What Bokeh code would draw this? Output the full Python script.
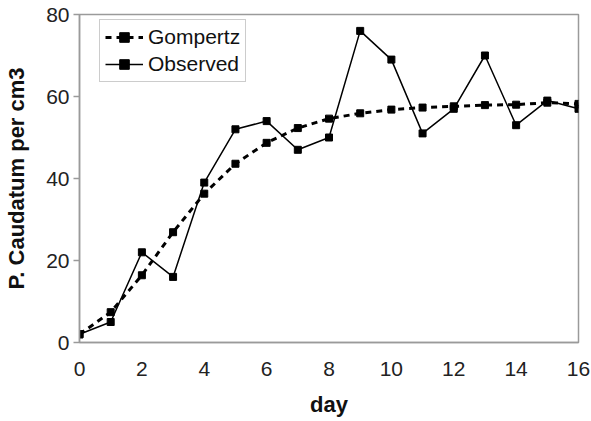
from bokeh.plotting import figure
from bokeh.models import Legend, LegendItem, FixedTicker, Range1d
from bokeh.embed import file_html
from bokeh.resources import INLINE

days = list(range(17))
observed = [2, 5, 22, 16, 39, 52, 54, 47, 50, 76, 69, 51, 57, 70, 53, 59, 57]
gompertz = [2, 7.4, 16.4, 26.9, 36.3, 43.6, 48.7, 52.3, 54.6, 55.9, 56.8, 57.3, 57.6, 57.9, 58.0, 58.5, 58.2]
x_ticks = [0, 2, 4, 6, 8, 10, 12, 14, 16]
y_ticks = [0, 20, 40, 60, 80]

FONT = "Liberation Sans"
GRAY = "#9a9a9a"

p = figure(width=591, height=421, output_backend="svg", toolbar_location=None,
           x_range=Range1d(0, 16), y_range=Range1d(0, 80),
           min_border_left=79, min_border_top=14, min_border_right=13, min_border_bottom=79)
p.grid.visible = False
p.outline_line_color = GRAY
p.outline_line_width = 1.5

g_line = p.line(days, gompertz, line_color="black", line_width=3, line_dash="6 5")
g_mark = p.scatter(days, gompertz, marker="square", size=7, fill_color="black", line_color="black")
o_line = p.line(days, observed, line_color="black", line_width=1.5)
o_mark = p.scatter(days, observed, marker="square", size=7, fill_color="black", line_color="black")

for ax in (p.xaxis[0], p.yaxis[0]):
    ax.axis_line_color = GRAY
    ax.axis_line_width = 1.5
    ax.major_tick_line_color = GRAY
    ax.major_tick_line_width = 1.5
    ax.minor_tick_line_color = None
    ax.major_label_text_font = FONT
    ax.major_label_text_font_size = "21px"
    ax.major_label_text_color = "#222222"
    ax.axis_label_text_font = FONT
    ax.axis_label_text_font_size = "22px"
    ax.axis_label_text_font_style = "bold"
    ax.axis_label_text_color = "#111111"

p.xaxis.ticker = FixedTicker(ticks=x_ticks)
p.yaxis.ticker = FixedTicker(ticks=y_ticks)
p.xaxis.axis_label = "day"
p.yaxis.axis_label = "P. Caudatum per cm3"
p.xaxis.major_tick_out = 0
p.xaxis.major_tick_in = 0
p.xaxis.major_label_standoff = 19
p.xaxis.axis_label_standoff = 13
p.yaxis.major_tick_out = 6
p.yaxis.major_tick_in = 0
p.yaxis.major_label_standoff = 4
p.yaxis.axis_label_standoff = 14

legend = Legend(items=[LegendItem(label="Gompertz", renderers=[g_line, g_mark]),
                       LegendItem(label="Observed", renderers=[o_line, o_mark])],
                location=(20, 260))
legend.label_text_font = FONT
legend.label_text_font_size = "21px"
legend.label_text_color = "#111111"
legend.border_line_color = GRAY
legend.border_line_width = 1.5
legend.glyph_width = 38
legend.glyph_height = 24
legend.label_height = 24
legend.label_standoff = 5
legend.spacing = 3
legend.padding = 5
legend.margin = 0
p.add_layout(legend)

open("out.html", "w").write(file_html(p, INLINE))
